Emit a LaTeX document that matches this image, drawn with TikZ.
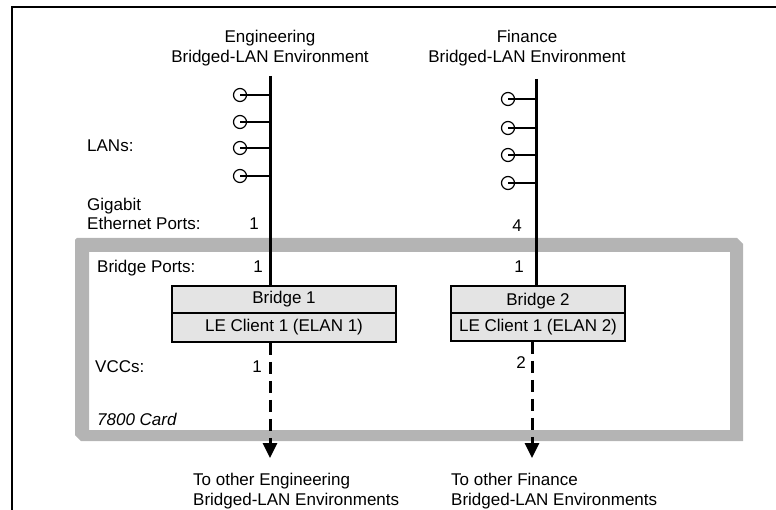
\documentclass[tikz,border=0pt]{standalone}
\usepackage{fontspec}
\setmainfont{Liberation Sans}
\usetikzlibrary{arrows.meta}
\definecolor{cardgray}{HTML}{B4B4B4}
\definecolor{boxgray}{HTML}{E4E4E4}
\begin{document}
\begin{tikzpicture}[x=1pt,y=-1pt,
  every node/.style={font=\fontsize{17}{20}\selectfont, inner sep=0pt},
  lbl/.style={anchor=base west},
  num/.style={anchor=base},
  title/.style={anchor=base, align=center},
  dest/.style={anchor=base west, align=left},
  segment/.style={line width=3pt},
  vcc/.style={line width=3pt, dash pattern=on 12pt off 7pt,
    -{Triangle[width=14pt,length=15pt]}},
  stub/.style={line width=1.4pt},
  lan/.style={circle, draw, line width=1.2pt, minimum size=13pt},
  unitbox/.style={draw, line width=1.6pt, fill=boxgray, inner sep=0pt}]
\useasboundingbox (0,0) rectangle (776,510);

% page frame
\draw[line width=1.5pt] (12,510) -- (12,7) -- (776,7);

% 7800 card outline (bevelled grey band)
\fill[cardgray, even odd rule]
  (75,240) -- (77,238) -- (737,238) -- (743,244) -- (743,441) -- (81,441) -- (75,435) -- cycle
  (89,252) rectangle (730,430);

% titles (base anchor sits on the last line)
\node[title] (engtitle) at (270,63) {Engineering\\Bridged-LAN Environment};
\node[title] (fintitle) at (527,63) {Finance\\Bridged-LAN Environment};

% row labels
\node[lbl] (lans) at (87,152) {LANs:};
\node[lbl] (gig) at (87,211) {Gigabit};
\node[lbl] (eth) at (87,230) {Ethernet Ports:};
\node[lbl] (bports) at (97,273) {Bridge Ports:};
\node[lbl] (vccs) at (95,372) {VCCs:};
\node[lbl, font=\fontsize{17}{20}\selectfont\itshape] (card) at (97,425) {7800 Card};

% port and VCC numbers
\node[num] (egp) at (254,230) {1};
\node[num] (fgp) at (517,232) {4};
\node[num] (ebp) at (258,273) {1};
\node[num] (fbp) at (519,273) {1};
\node[num] (evc) at (257,372) {1};
\node[num] (fvc) at (521,369) {2};

% bridges and LE clients
\node[unitbox, minimum width=224pt, minimum height=27pt] (b1) at (284,299.5) {Bridge 1};
\node[unitbox, minimum width=224pt, minimum height=29pt] (c1) at (284,327.5) {LE Client 1 (ELAN 1)};
\node[unitbox, minimum width=174pt, minimum height=27pt, text depth=1pt] (b2) at (538,299.5) {Bridge 2};
\node[unitbox, minimum width=174pt, minimum height=28pt] (c2) at (538,327) {LE Client 1 (ELAN 2)};

% bridged LAN segments
\coordinate (etop) at (270,76);
\coordinate (ftop) at (536,79);
\draw[segment] (etop) -- (etop |- b1.north);
\draw[segment] (ftop) -- (ftop |- b2.north);

% attached LANs
\foreach \i/\y in {1/95,2/122,3/148,4/176}{
  \node[lan] (e\i) at (240,\y) {};
  \draw[stub] (e\i.center) -- (e\i.center -| etop);
}
\foreach \i/\y in {1/99,2/128,3/155,4/183}{
  \node[lan] (f\i) at (508,\y) {};
  \draw[stub] (f\i.center) -- (f\i.center -| ftop);
}

% VCCs out of the card
\coordinate (eend) at (270,458);
\coordinate (fend) at (532,458);
\draw[vcc] (c1.south -| eend) -- (eend);
\draw[vcc] (c2.south -| fend) -- (fend);

% destinations
\node[dest] (engdest) at (193,505.5) {To other Engineering\\Bridged-LAN Environments};
\node[dest] (findest) at (451,505.5) {To other Finance\\Bridged-LAN Environments};
\end{tikzpicture}
\end{document}
